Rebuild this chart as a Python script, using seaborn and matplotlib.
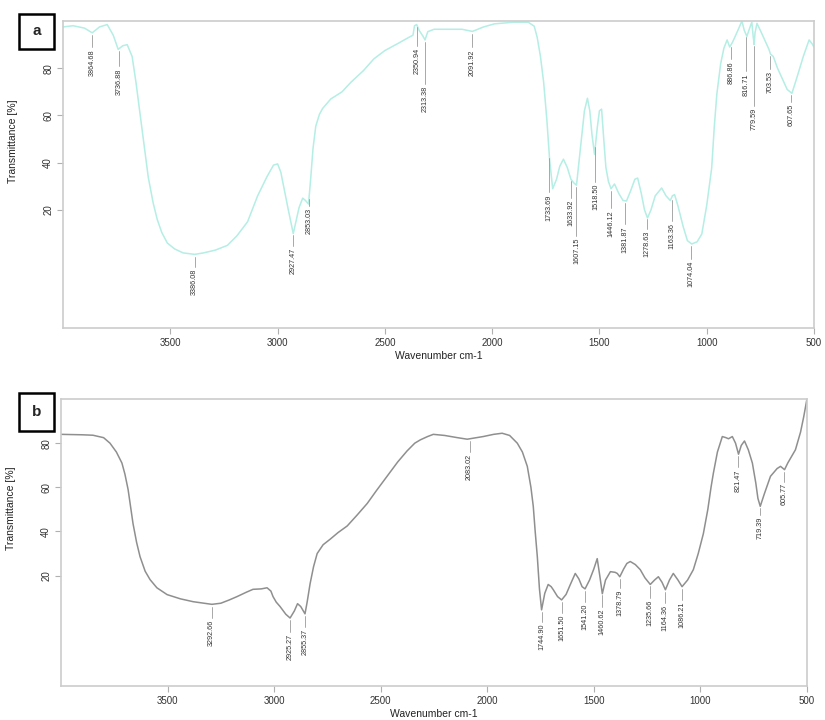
import matplotlib.pyplot as plt
import numpy as np
import pandas as pd
import seaborn as sns
from matplotlib.patches import Rectangle

# spectrum a (wavenumber, transmittance)
wn_a = [4000, 3953, 3900, 3864, 3830, 3794, 3766, 3743, 3722, 3701, 3678, 3660,
        3640, 3620, 3603, 3580, 3561, 3540, 3514, 3480, 3440, 3386, 3346, 3290,
        3234, 3190, 3140, 3093, 3050, 3019, 3000, 2985, 2972, 2950, 2927, 2910,
        2900, 2883, 2870, 2856, 2846, 2835, 2822, 2805, 2790, 2752, 2700, 2659,
        2600, 2551, 2500, 2439, 2390, 2369, 2362, 2352, 2340, 2322, 2313, 2300,
        2271, 2200, 2140, 2092, 2040, 1990, 1900, 1832, 1804, 1790, 1775, 1760,
        1745, 1732, 1718, 1700, 1685, 1668, 1650, 1633, 1620, 1607, 1590, 1570,
        1556, 1545, 1535, 1523, 1510, 1500, 1490, 1480, 1470, 1458, 1446, 1430,
        1410, 1390, 1374, 1355, 1335, 1322, 1305, 1290, 1276, 1260, 1240, 1210,
        1190, 1170, 1160, 1150, 1135, 1110, 1090, 1070, 1045, 1023, 1000, 977,
        965, 953, 935, 920, 905, 893, 880, 860, 836, 825, 813, 800, 790, 783,
        779, 775, 766, 750, 730, 710, 703, 690, 670, 650, 625, 603, 580, 550,
        523, 510, 500]
t_a = [97.5, 98, 97, 95, 97.5, 98.5, 94, 88, 89.5, 90, 85, 74,
       60, 46, 34, 23, 16, 10.5, 6, 3.5, 1.8, 1.2, 1.8, 3,
       5, 9, 15, 26, 34, 39, 39.5, 36, 30, 20, 10, 17,
       21, 25, 24, 22.5, 33, 46, 55.5, 60.5, 63, 67, 70, 74,
       79, 84, 87.5, 90.5, 93, 94, 98, 98.5, 96, 93.5, 92, 95.5,
       96.5, 96.5, 96.5, 95.6, 97.5, 98.8, 99.5, 99.5, 97.8, 93, 85, 74,
       58, 41, 29, 33, 38.5, 41.5, 38, 33, 31.5, 30.5, 45, 62,
       67.3, 62, 52, 43.6, 55, 62, 62.7, 50, 38, 32, 29, 31,
       27, 24, 23.8, 28, 33, 33.5, 27, 20, 16.6, 20, 26, 29.3,
       26, 24, 26, 26.5, 22, 13, 7, 5.6, 6.5, 9.8, 22, 37.7,
       55, 69, 82, 88.5, 92, 89, 91, 95, 100, 96, 93.5, 97, 99.5, 93,
       90, 95, 99, 96, 92, 88, 86, 85, 80, 76, 71, 69.4, 76, 85,
       92, 90.5, 89]

peaks_a = [3864.68, 3736.88, 3386.08, 2927.47, 2853.03, 2350.94, 2313.38, 2091.92,
           1733.69, 1633.92, 1607.15, 1518.50, 1446.12, 1381.87, 1278.63, 1163.36,
           1074.04, 886.86, 816.71, 779.59, 703.53, 607.65]
label_top_a = [88, 80, -5, 4, 20.8, 88.5, 72.4, 88, 26.7, 24.2, 8.1, 31, 20, 13.2,
               11.1, 14.5, -1.6, 83, 77.9, 63.1, 78.7, 64.8]

# spectrum b
wn_b = [4000, 3900, 3850, 3800, 3770, 3740, 3714, 3700, 3685, 3662, 3645, 3629,
        3605, 3582, 3550, 3502, 3440, 3380, 3330, 3292, 3250, 3210, 3174, 3130,
        3099, 3060, 3033, 3015, 3005, 2990, 2972, 2945, 2925, 2905, 2890, 2875,
        2855, 2845, 2831, 2815, 2798, 2770, 2737, 2700, 2657, 2610, 2563, 2520,
        2470, 2420, 2376, 2340, 2314, 2280, 2253, 2200, 2140, 2094, 2050, 2019,
        1970, 1930, 1895, 1859, 1835, 1812, 1795, 1784, 1775, 1765, 1755, 1745,
        1730, 1714, 1700, 1690, 1670, 1651, 1630, 1610, 1587, 1570, 1555, 1541,
        1520, 1500, 1484, 1472, 1460, 1445, 1422, 1400, 1390, 1378, 1360, 1345,
        1329, 1305, 1282, 1260, 1235, 1215, 1197, 1180, 1164, 1145, 1127, 1105,
        1086, 1060, 1033, 1010, 986, 965, 950, 939, 920, 897, 880, 868,
        850, 835, 821, 808, 793, 775, 756, 740, 730, 719, 700, 671,
        640, 624, 605, 590, 554, 530, 515, 500]
t_b = [84, 83.8, 83.6, 82.5, 80, 76, 71, 66, 59, 43.6, 35, 28.6,
       22, 18.2, 14.5, 11.4, 9.5, 8.2, 7.5, 7, 7.5, 9, 10.5, 12.5,
       13.8, 14, 14.5, 13, 10.5, 8, 6, 2.5, 0.8, 4, 7.3, 6,
       2.7, 8, 16.4, 24, 30, 34, 36.5, 39.5, 42.5, 47.5, 52.7, 58.5,
       65, 71.5, 76.5, 80, 81.5, 83, 84, 83.5, 82.5, 81.8, 82.5, 83,
       84, 84.5, 83.5, 80, 76, 69.5, 60, 51.4, 40, 28.6, 14, 4.5,
       12, 16, 15, 13.6, 10.5, 9, 11.5, 16, 21, 18.5, 15, 14,
       18, 23, 27.7, 20, 11.8, 18, 21.8, 21.5, 21, 19.5, 23, 25.5,
       26.4, 25, 22.7, 19, 16, 18, 19.5, 17, 13.6, 18, 21, 18,
       15, 18, 22.7, 30, 39, 50, 60, 66.4, 76, 83, 82.5, 82,
       83, 80, 75, 79, 81, 77, 71, 62, 55, 51.4, 57, 65,
       68.5, 69.5, 68, 71, 77, 85, 92, 100]

peaks_b = [3292.66, 2925.27, 2855.37, 2083.02, 1744.90, 1651.50, 1541.20, 1460.62,
           1378.79, 1235.66, 1164.36, 1086.21, 821.47, 719.39, 605.77]
label_top_b = [0, -6.4, -4.1, 75, -1.8, 2.3, 7.3, 5, 13.6, 9.1, 6.8, 8.2, 68.2, 46.8, 61.8]

x_ticks = [3500, 3000, 2500, 2000, 1500, 1000, 500]
y_ticks = [20, 40, 60, 80]

sns.set_theme(style="white")
plt.rcParams["font.family"] = ["Liberation Sans", "DejaVu Sans"]

fig = plt.figure(figsize=(8.25, 7.2), dpi=100)
ax_a = fig.add_axes([0.0764, 0.5444, 0.9103, 0.4264])
ax_b = fig.add_axes([0.0739, 0.0472, 0.9042, 0.3986])


def draw_panel(ax, wn, t, peaks, label_tops, color, label_y):
    df = pd.DataFrame({"wavenumber": wn, "T": t})
    sns.lineplot(data=df, x="wavenumber", y="T", color=color, linewidth=1.1,
                 estimator=None, ax=ax)
    order = np.argsort(wn)
    xs = np.asarray(wn)[order]
    ys = np.asarray(t)[order]
    for pk, top in zip(peaks, label_tops):
        yc = np.interp(pk, xs, ys)
        ax.plot([pk, pk], [yc - 1.0, top + 0.8], color="#9a9a9a", linewidth=0.6)
        ax.text(pk, top, f"{pk:.2f}", rotation=90, ha="center", va="top",
                fontsize=5.2, color="#333333")
    ax.set_xlim(4000, 500)
    ax.set_ylim(-30, 100)
    ax.set_xticks(x_ticks)
    ax.set_yticks(y_ticks)
    ax.set_yticklabels([str(v) for v in y_ticks], rotation=90, va="center")
    ax.tick_params(axis="both", which="both", direction="out", length=4, width=0.8,
                   color="#b0b0b0", labelsize=7, labelcolor="#333333", pad=3,
                   bottom=True, left=True)
    for s in ax.spines.values():
        s.set_color("#cccccc")
        s.set_linewidth(1.2)
    ax.set_xlabel("Wavenumber cm-1", fontsize=7.5, color="#222222", labelpad=2)
    ax.set_ylabel("Transmittance [%]", fontsize=7.5, color="#222222")
    ax.yaxis.set_label_coords(-0.06, label_y)


draw_panel(ax_a, wn_a, t_a, peaks_a, label_top_a, "#b4eee4", 0.61)
draw_panel(ax_b, wn_b, t_b, peaks_b, label_top_b, "#8f8f8f", 0.62)

for letter, (x0, y0, h) in zip(["a", "b"], [(0.023, 0.932, 0.0486), (0.023, 0.4014, 0.0528)]):
    fig.patches.append(Rectangle((x0, y0), 0.0424, h, transform=fig.transFigure,
                                 facecolor="white", edgecolor="black", linewidth=1.8,
                                 zorder=5))
    fig.text(x0 + 0.0212, y0 + h / 2, letter, ha="center", va="center",
             fontsize=11, fontweight="bold", zorder=6)

fig.savefig("out.png", dpi=100)
